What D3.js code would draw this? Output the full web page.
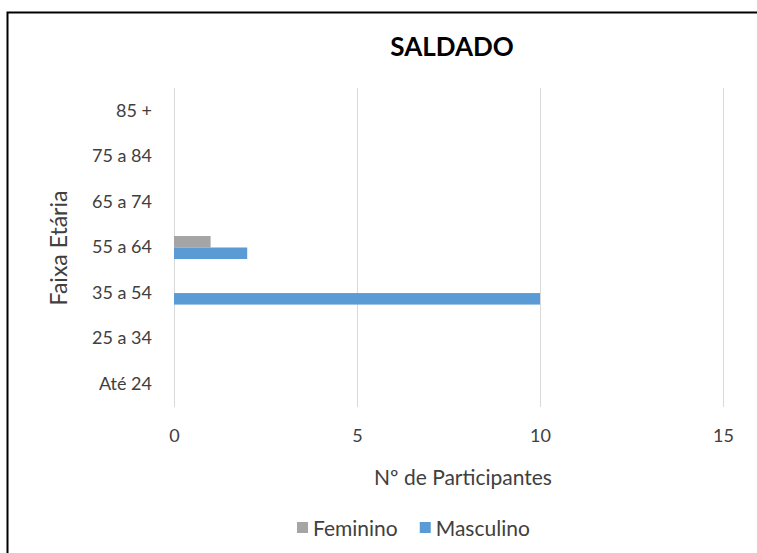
<!DOCTYPE html>
<html><head><meta charset="utf-8">
<script src="https://cdn.jsdelivr.net/npm/d3@7"></script>
<style>body{margin:0;background:#fff;} text{font-family:Lato, "Open Sans", sans-serif;fill:#404040;}</style>
</head><body>
<svg id="c" width="757" height="553"></svg>
<script>
const categories = ["Até 24","25 a 34","35 a 54","55 a 64","65 a 74","75 a 84","85 +"];
const feminino   = [0,0,0,1,0,0,0];
const masculino  = [0,0,10,2,0,0,0];
const seriesNames = ["Feminino","Masculino"];
const xTicks = [0,5,10,15];

const colors = {Feminino:"#A5A5A5", Masculino:"#5B9BD5"};
const svg = d3.select("#c");
svg.append("rect").attr("width",757).attr("height",553).attr("fill","#fff");
svg.append("path").attr("d","M7.5,560 V12.5 H770").attr("fill","none").attr("stroke","#000").attr("stroke-width",2);

const L=174, R=723, T=88, B=407;
const x = d3.scaleLinear().domain([0,15]).range([L,R]);
const y = d3.scaleBand().domain(categories.slice().reverse()).range([T,B]);
const inner = d3.scaleBand().domain(seriesNames).range([0,y.bandwidth()]).paddingInner(0).paddingOuter(0.98);

svg.append("g").selectAll("line").data(xTicks).join("line")
  .attr("x1",d=>x(d)).attr("x2",d=>x(d)).attr("y1",T).attr("y2",B)
  .attr("stroke","#D9D9D9").attr("stroke-width",1).attr("shape-rendering","crispEdges");

const rows = categories.map((c,i)=>({cat:c, Feminino:feminino[i], Masculino:masculino[i]}));
const g = svg.append("g");
rows.forEach(r=>{
  seriesNames.forEach(s=>{
    if(r[s]>0) g.append("rect")
      .attr("x",x(0)).attr("y",y(r.cat)+inner(s))
      .attr("width",x(r[s])-x(0)).attr("height",inner.bandwidth())
      .attr("fill",colors[s]);
  });
});

const xa = svg.append("g").attr("transform",`translate(0,${B})`).call(d3.axisBottom(x).tickValues(xTicks).tickSize(0).tickPadding(22));
xa.select(".domain").remove();
xa.selectAll("text").style("font-size","18px").style("font-family","Lato, sans-serif").attr("fill","#404040");

const ya = svg.append("g").attr("transform",`translate(${L},0)`).call(d3.axisLeft(y).tickSize(0).tickPadding(22));
ya.select(".domain").remove();
ya.selectAll("text").style("font-size","18px").style("font-family","Lato, sans-serif").attr("fill","#404040");

svg.append("text").attr("x",452).attr("y",56).attr("text-anchor","middle")
  .style("font-size","26px").style("font-weight","bold").style("fill","#000").text("SALDADO");
svg.append("text").attr("x",463).attr("y",485).attr("text-anchor","middle").style("font-size","21px").text("Nº de Participantes");
svg.append("text").attr("transform","translate(67,248) rotate(-90)").attr("text-anchor","middle").style("font-size","23px").text("Faixa Etária");

// legend
const leg = svg.append("g");
let lx = 297;
seriesNames.forEach((n,i)=>{
  leg.append("rect").attr("x",lx).attr("y",522).attr("width",11).attr("height",11).attr("fill",colors[n]);
  const t = leg.append("text").attr("x",lx+16).attr("y",536).style("font-size","21px").text(n);
  lx += 16 + t.node().getComputedTextLength() + 22;
});
</script>
</body></html>
